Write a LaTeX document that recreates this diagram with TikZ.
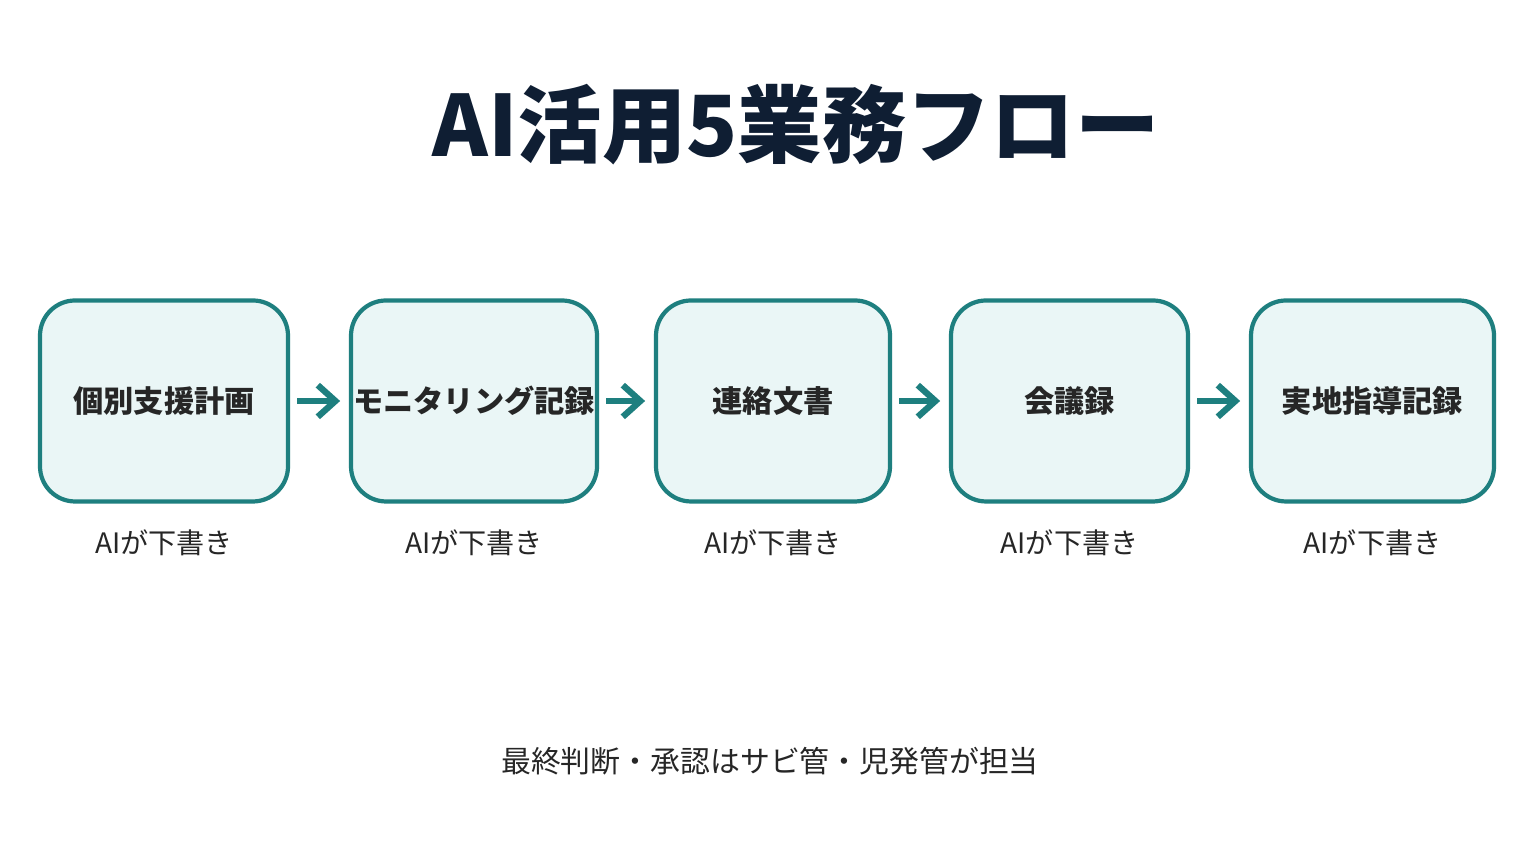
\documentclass[tikz,border=0pt]{standalone}
\usepackage{fontspec}
\newfontfamily\jp{Noto Sans CJK JP}
\usetikzlibrary{positioning,arrows.meta}
\definecolor{tealc}{HTML}{1E7F7F}
\definecolor{boxfill}{HTML}{EAF6F6}
\definecolor{ink}{HTML}{0F1E33}
\tikzset{
  stage/.style={draw=tealc, line width=1.2pt, fill=boxfill, rounded corners=10pt,
    minimum height=2.01cm, inner sep=0pt, font=\jp\bfseries\fontsize{8.6}{10}\selectfont, text=black!85},
  note/.style={font=\jp\fontsize{8}{10}\selectfont, text=black!85},
  flow/.style={draw=tealc, line width=1.8pt, shorten <=2pt, shorten >=2.5pt,
    -{Straight Barb[length=5pt,width=9pt]}},
}
\begin{document}
\begin{tikzpicture}
\useasboundingbox (0,0) rectangle (15.36,8.64);
\fill[white] (0,0) rectangle (15.36,8.64);
\node[font=\jp\bfseries\fontsize{24}{28}\selectfont, text=ink] (title) at (7.96,7.39) {AI活用5業務フロー};

\node[stage, minimum width=2.48cm] (plan) at (1.64,4.63) {個別支援計画};
\node[stage, minimum width=2.46cm] (monitor) at (4.74,4.63) {モニタリング記録};
\node[stage, minimum width=2.34cm] (letter) at (7.73,4.63) {連絡文書};
\node[stage, minimum width=2.37cm] (minutes) at (10.695,4.63) {会議録};
\node[stage, minimum width=2.43cm] (guide) at (13.725,4.63) {実地指導記録};

\foreach \n in {plan,monitor,letter,minutes,guide}
  \node[note, below=0.14cm of \n] (\n-ai) {AIが下書き};

\draw[flow] (plan) -- (monitor);
\draw[flow] (monitor) -- (letter);
\draw[flow] (letter) -- (minutes);
\draw[flow] (minutes) -- (guide);

\node[note, font=\jp\fontsize{8.5}{10}\selectfont] (final) at (7.7,1.03) {最終判断・承認はサビ管・児発管が担当};
\end{tikzpicture}
\end{document}
